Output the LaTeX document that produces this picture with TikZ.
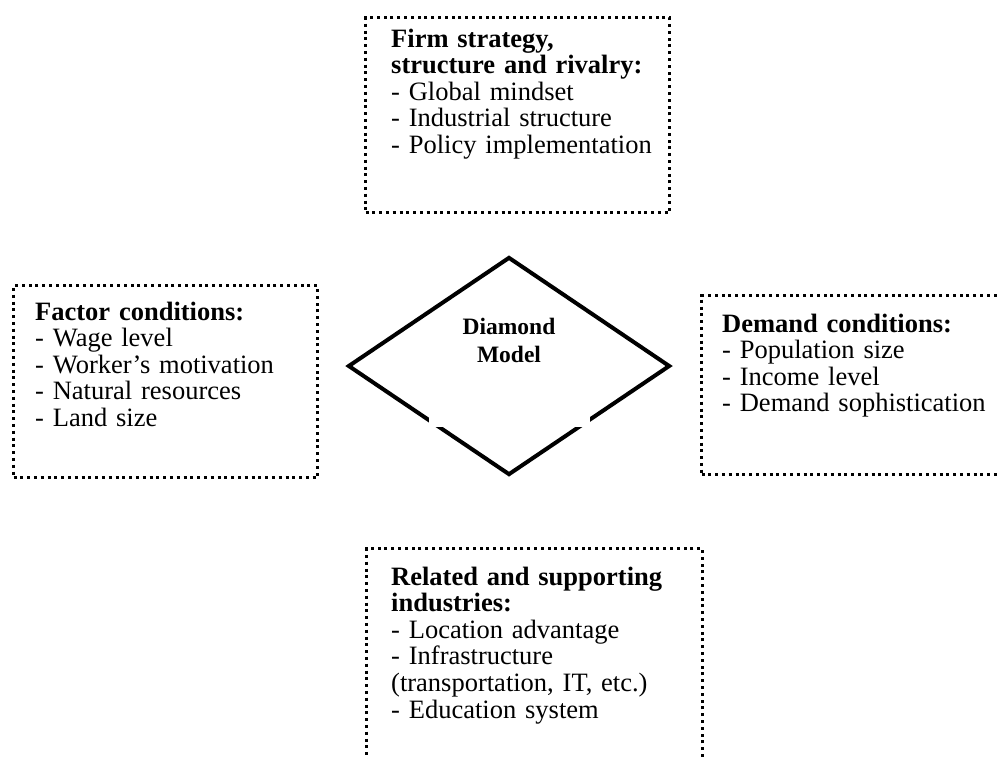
\documentclass[tikz,border=0pt]{standalone}
\usepackage{fontspec}
\setmainfont{Liberation Serif}
\usetikzlibrary{shapes.geometric}
\tikzset{
  dotbox/.style={draw, line width=3pt, dash pattern=on 3pt off 3.8pt, inner sep=0pt, anchor=north west},
  boxtext/.style={anchor=base west, align=left, inner sep=0pt, text width=320pt, font=\fontsize{26.5}{26.6}\selectfont},
  diashape/.style={diamond, draw, line width=4pt, inner sep=0pt, minimum width=322pt, minimum height=218pt},
  masknode/.style={fill=white, inner sep=0pt, minimum width=161pt, minimum height=58pt, anchor=south},
  dialabel/.style={anchor=base, align=center, inner sep=0pt, font=\fontsize{23.5}{28}\selectfont\bfseries}
}
\begin{document}
\begin{tikzpicture}[x=1pt,y=-1pt]
\useasboundingbox (0,0) rectangle (998,758);
\clip (0,0) rectangle (998,758);
\fill[white] (0,0) rectangle (998,758);

% top box
\node[dotbox, minimum width=304pt, minimum height=195pt] (topbox) at (364,16) {};
\node[boxtext] (toptext) at (391,47) {\textbf{Firm strategy,}\\\textbf{structure and rivalry:}\\- Global mindset\\- Industrial structure\\- Policy implementation};

% left box
\node[dotbox, minimum width=304pt, minimum height=192pt] (leftbox) at (12,284) {};
\node[boxtext] (lefttext) at (35,320) {\textbf{Factor conditions:}\\- Wage level\\- Worker’s motivation\\- Natural resources\\- Land size};

% right box
\node[dotbox, minimum width=330pt, minimum height=179pt] (rightbox) at (700,294) {};
\node[boxtext] (righttext) at (722,332) {\textbf{Demand conditions:}\\- Population size\\- Income level\\- Demand sophistication};

% bottom box
\node[dotbox, minimum width=336pt, minimum height=260pt] (bottombox) at (365,547) {};
\node[boxtext] (bottomtext) at (391,585) {\textbf{Related and supporting}\\\textbf{industries:}\\- Location advantage\\- Infrastructure\\(transportation, IT, etc.)\\- Education system};

% diamond
\node[diashape] (dia) at (509,366) {};
\node[masknode] (diamask) at (509.5,427) {};
\node[dialabel] (dialbl) at (509,362) {Diamond\\Model};
\end{tikzpicture}
\end{document}
